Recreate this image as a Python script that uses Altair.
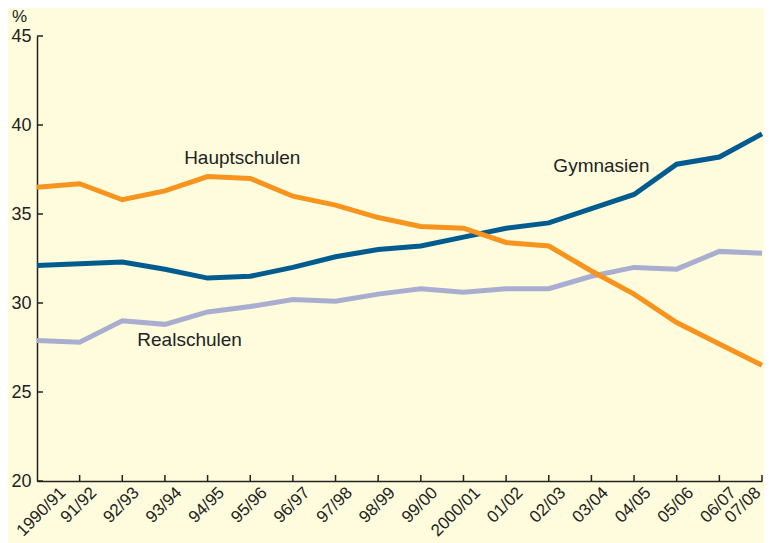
import altair as alt
import pandas as pd
import json

years = ["1990/91", "91/92", "92/93", "93/94", "94/95", "95/96", "96/97", "97/98",
         "98/99", "99/00", "2000/01", "01/02", "02/03", "03/04", "04/05", "05/06",
         "06/07", "07/08"]
hauptschulen = [36.5, 36.7, 35.8, 36.3, 37.1, 37.0, 36.0, 35.5, 34.8, 34.3, 34.2,
                33.4, 33.2, 31.8, 30.5, 28.9, 27.7, 26.5]
gymnasien = [32.1, 32.2, 32.3, 31.9, 31.4, 31.5, 32.0, 32.6, 33.0, 33.2, 33.7,
             34.2, 34.5, 35.3, 36.1, 37.8, 38.2, 39.5]
realschulen = [27.9, 27.8, 29.0, 28.8, 29.5, 29.8, 30.2, 30.1, 30.5, 30.8, 30.6,
               30.8, 30.8, 31.5, 32.0, 31.9, 32.9, 32.8]

y_ticks = [20, 25, 30, 35, 40, 45]

label_names = ["Hauptschulen", "Gymnasien", "Realschulen"]
label_x = ["95/96", "03/04", "94/95"]
label_y = [38.15, 37.7, 27.9]
label_dx = [-8, 10, -18]

BG = "#fefcdc"
W, H = 725, 445
FONT = "Liberation Sans"

idx = list(range(len(years)))
last = len(years) - 1
xscale = alt.Scale(domain=[0, last], nice=False, zero=False)
yscale = alt.Scale(domain=[20, 45], nice=False, zero=False)
label_expr = json.dumps(years) + "[datum.value]"

label_offset = {
    "condition": [
        {"test": "datum.value == 0", "value": 20},
        {"test": "datum.value == %d" % last, "value": -10},
    ],
    "value": 8,
}

def line(values, color):
    df = pd.DataFrame({"i": idx, "Jahr": years, "Wert": values})
    return alt.Chart(df).mark_line(color=color, strokeWidth=5, strokeJoin="miter").encode(
        x=alt.X("i:Q", scale=xscale,
                axis=alt.Axis(title=None, ticks=False, grid=False, values=idx,
                              labelExpr=label_expr, labelAngle=-45, labelFontSize=17,
                              labelColor="#222222", labelFont=FONT, labelPadding=3,
                              labelOffset=label_offset,
                              domainColor="#222222", domainWidth=1.5, labelOverlap=False,
                              labelFlush=False, labelBound=False)),
        y=alt.Y("Wert:Q", scale=yscale,
                axis=alt.Axis(title="%", titleAngle=0, titleX=-18, titleY=-11,
                              titleBaseline="bottom",
                              titleFontSize=17, titleFontWeight="normal", titleFont=FONT,
                              titleColor="#222222", titleAlign="center",
                              values=y_ticks, ticks=False, grid=False, labelFontSize=18,
                              labelColor="#222222", labelFont=FONT, labelPadding=6,
                              labelFlush=False, labelBound=False,
                              domainColor="#222222", domainWidth=1.5)),
    )

ytick_df = pd.DataFrame({"v": y_ticks})
yticks = alt.Chart(ytick_df).mark_rule(color="#222222", strokeWidth=1.5).encode(
    y=alt.Y("v:Q", scale=yscale),
    x=alt.value(0), x2=alt.value(6),
)
xtick_df = pd.DataFrame({"i": idx[1:]})
xticks = alt.Chart(xtick_df).mark_rule(color="#222222", strokeWidth=1.5).encode(
    x=alt.X("i:Q", scale=xscale),
    y=alt.value(H), y2=alt.value(H - 6),
)

lab_df = pd.DataFrame({"name": label_names,
                       "i": [years.index(v) for v in label_x],
                       "Wert": label_y})
labels = []
for k in range(len(label_names)):
    labels.append(
        alt.Chart(lab_df.iloc[[k]]).mark_text(
            fontSize=19, font=FONT, color="#222222", dx=label_dx[k], align="center",
            baseline="middle").encode(
            x=alt.X("i:Q", scale=xscale),
            y=alt.Y("Wert:Q", scale=yscale),
            text="name:N",
        )
    )

chart = alt.layer(
    line(realschulen, "#a9aed0"),
    line(gymnasien, "#005b8f"),
    line(hauptschulen, "#f7941d"),
    yticks, xticks, *labels,
).properties(
    width=W, height=H,
    background=BG,
    padding={"left": 29, "top": 28, "right": 2, "bottom": 62},
    autosize=alt.AutoSizeParams(type="none"),
).configure_view(stroke=None)

chart.save("out.html", embed_options={"renderer": "svg", "actions": False})
